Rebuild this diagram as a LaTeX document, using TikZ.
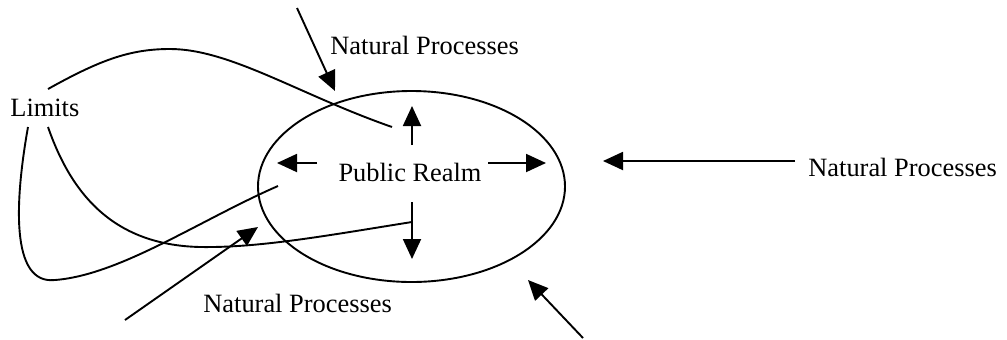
\documentclass[tikz,border=0pt]{standalone}
\usepackage{fontspec}
\setmainfont{Liberation Serif}
\usetikzlibrary{arrows.meta,shapes.geometric}

\begin{document}
\begin{tikzpicture}[x=0.5pt,y=-0.5pt,
    every node/.style={font=\fontsize{13.2}{15}\selectfont,inner sep=0pt},
    flow/.style={line width=0.95pt,-{Triangle[length=10pt,width=9pt]}},
    limit/.style={line width=0.95pt},
  ]
\useasboundingbox (0,0) rectangle (1007,339);
% the realm and its outward pushes
\node[draw,ellipse,line width=0.95pt,minimum width=153.5pt,minimum height=95.5pt] (rim) at (411.5,186.5) {};
\node (realm) at (410,172) {Public Realm};
\coordinate (up0) at (412,145);   \coordinate (up1) at (412,106);
\coordinate (lf0) at (317,163);   \coordinate (lf1) at (277,163);
\coordinate (rt0) at (488,163);   \coordinate (rt1) at (546,163);
\coordinate (dn0) at (412,202);   \coordinate (dn1) at (412,259);
\draw[flow] (up0) -- (up1);
\draw[flow] (lf0) -- (lf1);
\draw[flow] (rt0) -- (rt1);
\draw[flow] (dn0) -- (dn1);
% limits
\node[anchor=west] (limits) at (10,108) {Limits};
\coordinate (la) at (48,89);   \coordinate (lb) at (48,127);  \coordinate (lc) at (28,127);
\coordinate (ea) at (392,127); \coordinate (eb) at (412,222); \coordinate (ec) at (278,186);
\draw[limit] (la) .. controls (100,60) and (130,49) .. (170,49)
  .. controls (230,49) and (300,95) .. (ea);
\draw[limit] (lb) .. controls (70,190) and (110,245) .. (200,247)
  .. controls (260,248) and (330,235) .. (eb);
\draw[limit] (lc) .. controls (15,200) and (10,285) .. (55,280)
  .. controls (120,275) and (200,220) .. (ec);
% natural processes
\node[anchor=west] (npTop) at (330,45) {Natural Processes};
\node[anchor=west] (npRight) at (808,167) {Natural Processes};
\node[anchor=west] (npBottom) at (203,303) {Natural Processes};
\coordinate (t0) at (297,8);   \coordinate (t1) at (335,91);
\coordinate (r0) at (795,161); \coordinate (r1) at (603,161);
\coordinate (b0) at (125,320); \coordinate (b1) at (258,227);
\coordinate (s0) at (583,338); \coordinate (s1) at (528,280);
\draw[flow] (t0) -- (t1);
\draw[flow] (r0) -- (r1);
\draw[flow] (b0) -- (b1);
\draw[flow] (s0) -- (s1);
\end{tikzpicture}
\end{document}
